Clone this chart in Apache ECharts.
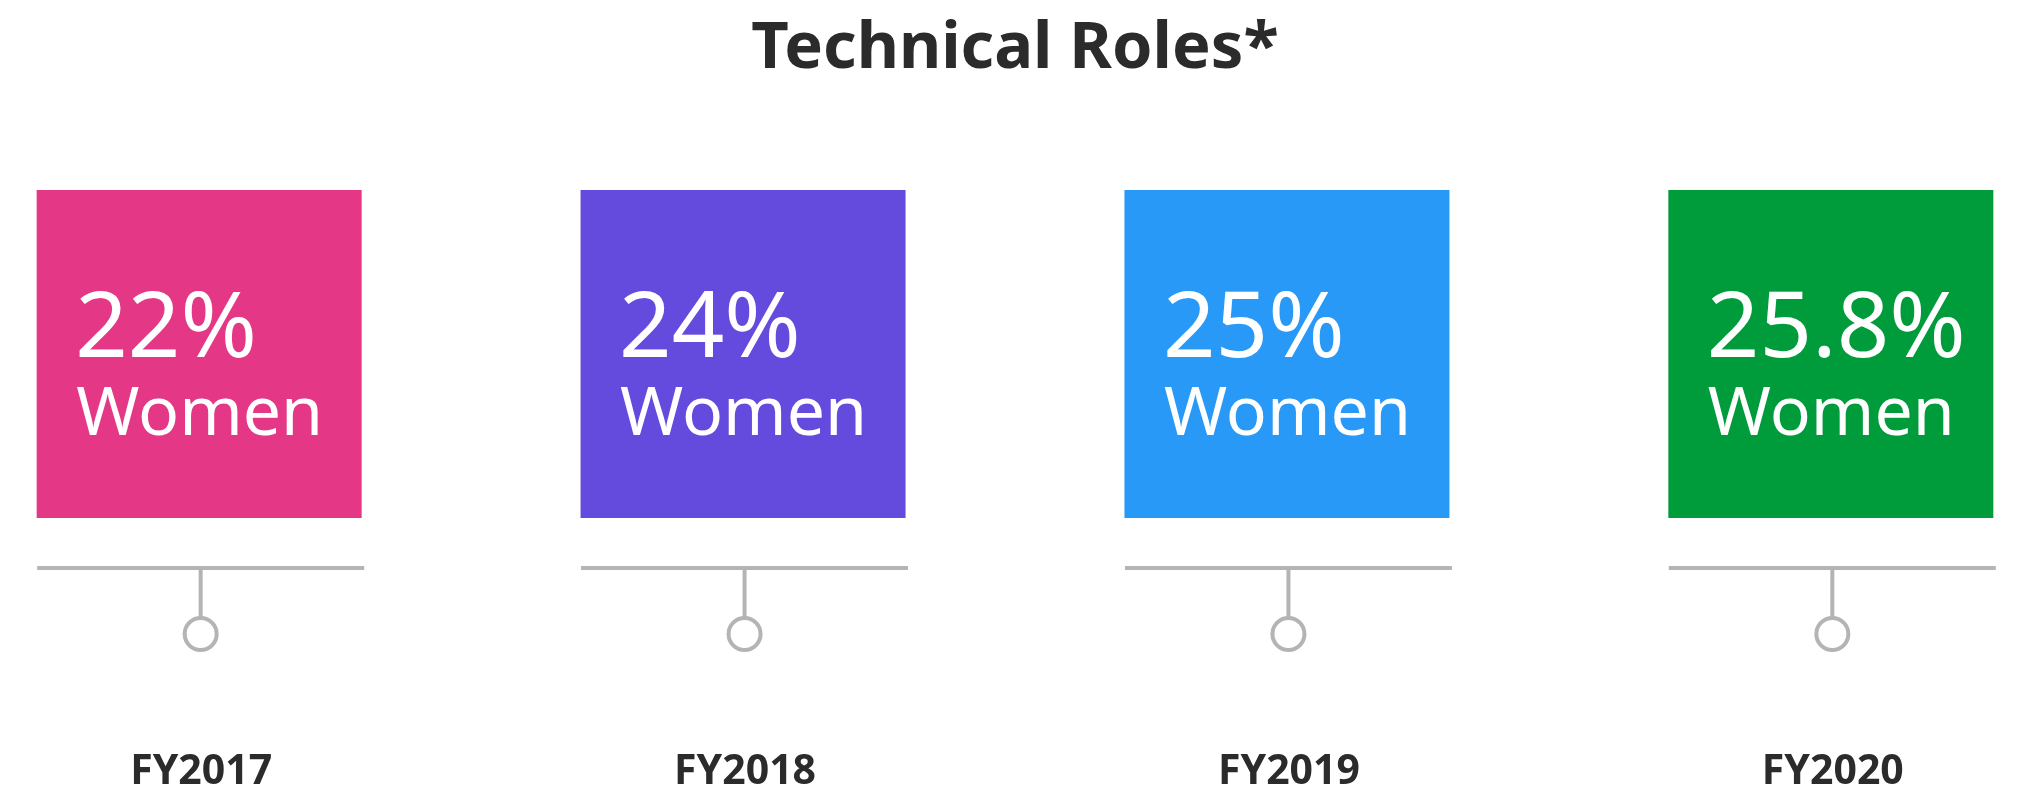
<!DOCTYPE html>
<html>
<head>
<meta charset="utf-8">
<title>Technical Roles</title>
<script src="https://cdn.jsdelivr.net/npm/echarts@6/dist/echarts.min.js"></script>
<style>
html, body { margin: 0; padding: 0; background: #fff; }
#chart { width: 2030px; height: 787px; }
</style>
</head>
<body>
<div id="chart"></div>
<script>
// data
const years = ["FY2017", "FY2018", "FY2019", "FY2020"];
const womenPct = [22, 24, 25, 25.8];
const boxColors = ["#e43886", "#654ade", "#2899f6", "#009b3a"];
const subLabel = "Women";

const font = '"Noto Sans", sans-serif';
const grey = "#b4b4b4";
const dark = "#2b2b2b";

function renderItem(params, api) {
  const i = api.value(0);
  const cx = api.coord([i, 0])[0];
  const lx = cx + 1.5; // timeline tick centre
  return {
    type: "group",
    children: [
      {
        type: "rect",
        shape: { x: cx - 162.5, y: 190, width: 325, height: 328 },
        style: { fill: boxColors[i] }
      },
      {
        type: "text",
        style: {
          text: api.value(1) + "%",
          x: cx - 124, y: 331,
          font: "92px " + font,
          fill: "#fff",
          textAlign: "left", textVerticalAlign: "middle"
        }
      },
      {
        type: "text",
        style: {
          text: subLabel,
          x: cx - 123, y: 416,
          font: "68px " + font,
          fill: "#fff",
          textAlign: "left", textVerticalAlign: "middle"
        }
      },
      {
        type: "line",
        shape: { x1: cx - 162, y1: 568, x2: cx + 165, y2: 568 },
        style: { stroke: grey, lineWidth: 4 }
      },
      {
        type: "line",
        shape: { x1: lx, y1: 568, x2: lx, y2: 617 },
        style: { stroke: grey, lineWidth: 4 }
      },
      {
        type: "circle",
        shape: { cx: lx, cy: 634, r: 16 },
        style: { fill: "#fff", stroke: grey, lineWidth: 4 }
      },
      {
        type: "text",
        style: {
          text: years[i],
          x: cx + 2, y: 772,
          font: "bold 41px " + font,
          fill: dark,
          textAlign: "center", textVerticalAlign: "middle"
        }
      }
    ]
  };
}

const chart = echarts.init(document.getElementById("chart"));
chart.setOption({
  backgroundColor: "#fff",
  animation: false,
  title: {
    text: "Technical Roles*",
    left: "center",
    top: 12,
    textStyle: { fontFamily: "Noto Sans", fontWeight: "bold", fontSize: 65, color: dark }
  },
  grid: { left: 36, right: 36, top: 0, bottom: 0 },
  xAxis: { type: "value", min: -0.3, max: 3.3, show: false },
  yAxis: { type: "value", min: 0, max: 100, show: false },
  series: [
    {
      type: "custom",
      renderItem: renderItem,
      data: years.map((y, i) => [i, womenPct[i]])
    }
  ]
});
</script>
</body>
</html>
